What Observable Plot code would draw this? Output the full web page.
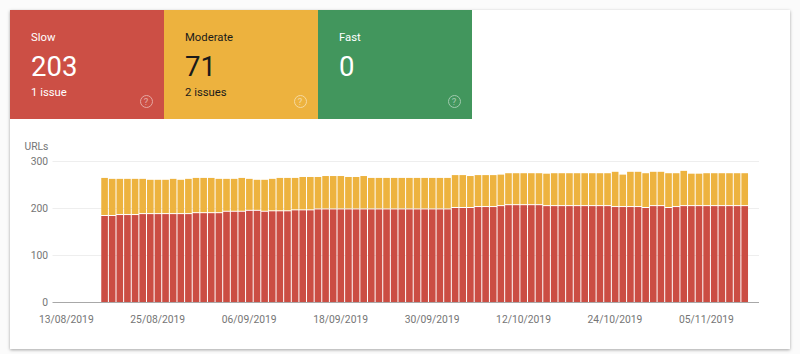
<!DOCTYPE html>
<html>
<head>
<meta charset="utf-8">
<script src="https://cdn.jsdelivr.net/npm/d3@7"></script>
<script src="https://cdn.jsdelivr.net/npm/@observablehq/plot@0.6"></script>
<style>
  html, body { margin: 0; padding: 0; background: #fbfbfb; width: 800px; height: 354px; overflow: hidden; }
  body { font-family: Roboto, sans-serif; }
  #card { position: absolute; left: 10px; top: 10px; width: 780px; height: 339px; background: #fff;
          box-shadow: 0 1px 3px rgba(0,0,0,.35); }
  #tiles { display: flex; height: 109px; }
  .tile { position: relative; width: 154px; height: 109px; box-sizing: border-box; padding-left: 21px; }
  .tile .name { position: absolute; top: 21px; font-size: 11.3px; line-height: 14px; }
  .tile .num { position: absolute; top: 39px; font-size: 27.5px; line-height: 36px; font-weight: 400; }
  .tile .sub { position: absolute; top: 76px; font-size: 11.3px; line-height: 14px; }
  .tile .help { position: absolute; left: 129.5px; top: 84.5px; width: 11px; height: 11px; border-radius: 50%;
                border: 1.2px solid; font-size: 9.5px; line-height: 11px; text-align: center; opacity: .5; color: #fff; }
  #chart { position: absolute; left: 0; top: 109px; }
  #chart svg { display: block; }
</style>
</head>
<body>
<div id="card">
  <div id="tiles"></div>
  <div id="chart"></div>
</div>
<script>
const tileNames = ["Slow", "Moderate", "Fast"];
const tileCounts = ["203", "71", "0"];
const tileIssues = ["1 issue", "2 issues", ""];
const tileColors = ["#cc4f45", "#edb23e", "#42965d"];
const tileInk = ["#fff", "#1a1a1a", "#fff"];

const startDate = "2019-08-18";
const tickDates = ["2019-08-13","2019-08-25","2019-09-06","2019-09-18","2019-09-30","2019-10-12","2019-10-24","2019-11-05"];
const yTicks = [0, 100, 200, 300];
const slow = [
  183,183,185,185,185,187,187,187,187,187,187,187,189,189,189,189,192,192,192,194,194,
  192,193,193,193,195,195,195,197,197,197,197,197,197,197,197,197,197,197,197,197,197,
  197,197,197,197,200,200,200,202,202,202,204,206,206,206,206,206,204,204,204,204,204,
  204,204,204,204,202,202,202,202,200,204,204,200,202,204,204,204,204,204,204,204,204,204
];
const moderate = [
  81,79,77,77,77,75,73,73,73,75,73,75,75,75,75,73,70,70,72,68,66,
  68,69,71,71,69,71,71,69,71,71,71,69,69,71,67,67,67,67,67,67,67,
  67,67,67,67,70,70,68,68,68,68,67,68,68,68,68,68,69,70,70,70,70,
  70,70,70,70,75,69,75,75,74,73,73,74,72,75,69,69,70,70,70,70,70,70
];

const tiles = document.getElementById("tiles");
tileNames.forEach((name, i) => {
  const t = document.createElement("div");
  t.className = "tile";
  t.style.background = tileColors[i];
  t.style.color = tileInk[i];
  t.innerHTML = `<div class="name">${name}</div><div class="num">${tileCounts[i]}</div>` +
    `<div class="sub">${tileIssues[i]}</div><div class="help">?</div>`;
  tiles.appendChild(t);
});

const start = new Date(startDate + "T00:00:00Z");
const rows = slow.map((s, i) => ({
  date: d3.utcDay.offset(start, i),
  slow: s,
  top: s + moderate[i]
}));
const ticks = tickDates.map(d => new Date(d + "T12:00:00Z"));

const chart = Plot.plot({
  width: 780,
  height: 230,
  marginLeft: 42.5,
  marginRight: 31,
  marginTop: 42,
  marginBottom: 47,
  style: { fontFamily: "Roboto, sans-serif", fontSize: "10.3px", background: "transparent", color: "#757575" },
  x: { type: "utc", domain: [new Date("2019-08-11T16:00:00Z"), new Date("2019-11-12T09:00:00Z")] },
  y: { domain: [0, 300] },
  marks: [
    Plot.gridY(yTicks.filter(d => d > 0), { stroke: "#eeeeee", strokeOpacity: 1 }),
    Plot.rectY(rows, { x: "date", interval: d3.utcDay, y1: 0, y2: "slow", fill: "#cb4d43", insetLeft: 0.5, insetRight: 0.5 }),
    Plot.rectY(rows, { x: "date", interval: d3.utcDay, y1: "slow", y2: "top", fill: "#edb33f", insetLeft: 0.5, insetRight: 0.5, insetBottom: 1 }),
    Plot.ruleY([0], { stroke: "#a8a8a8" }),
    Plot.axisY(yTicks, { tickSize: 0, tickPadding: 5, label: null, color: "#757575" }),
    Plot.text(["URLs"], { frameAnchor: "top-left", dx: -28.5, dy: -19, textAnchor: "start", fill: "#757575" }),
    Plot.axisX(ticks, { tickSize: 0, tickPadding: 13, dx: -0.7, tickFormat: d3.utcFormat("%d/%m/%Y"), label: null, color: "#757575" })
  ]
});
document.getElementById("chart").appendChild(chart);
</script>
</body>
</html>
